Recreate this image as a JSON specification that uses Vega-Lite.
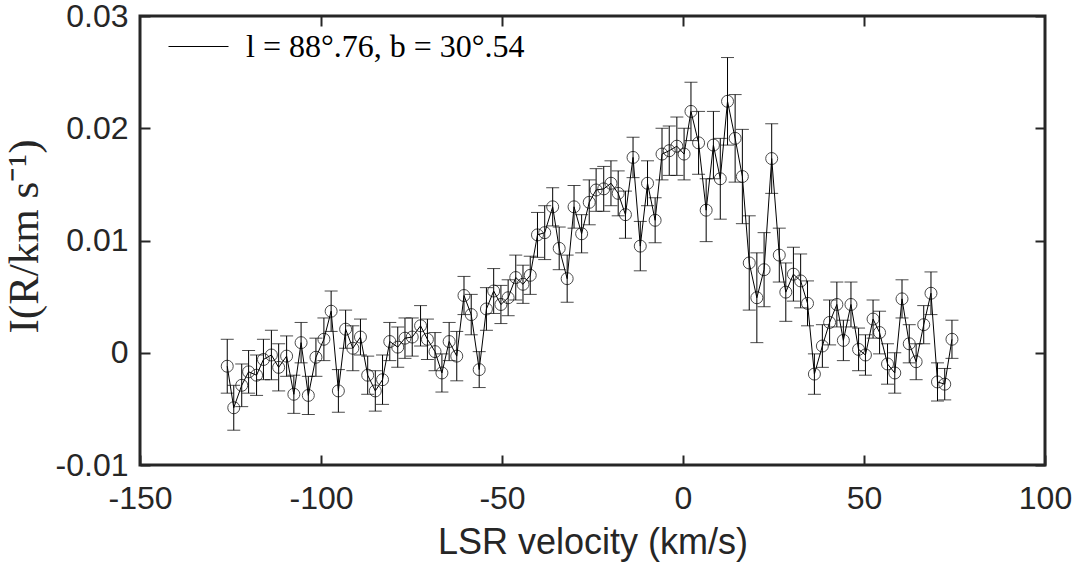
{
  "$schema": "https://vega.github.io/schema/vega-lite/v6.json",
  "width": 905,
  "height": 449,
  "autosize": "none",
  "padding": {"left": 140, "top": 16, "right": 29, "bottom": 99},
  "background": "white",
  "config": {
    "view": {"stroke": "#262626", "strokeWidth": 3},
    "axis": {
      "domain": false,
      "grid": false,
      "offset": -10,
      "tickColor": "#262626",
      "tickWidth": 2,
      "tickSize": 10,
      "labelFlush": false,
      "labelOverlap": false,
      "labelFont": "Liberation Sans",
      "labelFontSize": 32,
      "labelColor": "#262626",
      "titleColor": "#262626",
      "titleFontWeight": "normal"
    }
  },
  "data": {
    "values": [
      {"v": -125.9, "I": -0.0012, "err": 0.0024},
      {"v": -124.1, "I": -0.0049, "err": 0.0020},
      {"v": -121.9, "I": -0.0029, "err": 0.0019},
      {"v": -120.0, "I": -0.0017, "err": 0.0019},
      {"v": -117.8, "I": -0.0020, "err": 0.0018},
      {"v": -115.9, "I": -0.0006, "err": 0.0018},
      {"v": -113.7, "I": -0.0002, "err": 0.0022},
      {"v": -111.7, "I": -0.0013, "err": 0.0021},
      {"v": -109.5, "I": -0.0003, "err": 0.0018},
      {"v": -107.5, "I": -0.0037, "err": 0.0017},
      {"v": -105.5, "I": 0.0009, "err": 0.0018},
      {"v": -103.5, "I": -0.0038, "err": 0.0017},
      {"v": -101.4, "I": -0.0004, "err": 0.0017},
      {"v": -99.2, "I": 0.0012, "err": 0.0019},
      {"v": -97.2, "I": 0.0037, "err": 0.0018},
      {"v": -95.2, "I": -0.0034, "err": 0.0019},
      {"v": -93.2, "I": 0.0021, "err": 0.0017},
      {"v": -91.2, "I": 0.0004, "err": 0.0020},
      {"v": -89.1, "I": 0.0014, "err": 0.0016},
      {"v": -87.1, "I": -0.0020, "err": 0.0017},
      {"v": -85.0, "I": -0.0034, "err": 0.0018},
      {"v": -83.0, "I": -0.0024, "err": 0.0022},
      {"v": -81.0, "I": 0.0010, "err": 0.0017},
      {"v": -78.8, "I": 0.0005, "err": 0.0018},
      {"v": -76.8, "I": 0.0013, "err": 0.0018},
      {"v": -74.8, "I": 0.0014, "err": 0.0017},
      {"v": -72.5, "I": 0.0024, "err": 0.0018},
      {"v": -70.6, "I": 0.0012, "err": 0.0018},
      {"v": -68.5, "I": 0.0001, "err": 0.0017},
      {"v": -66.6, "I": -0.0018, "err": 0.0017},
      {"v": -64.6, "I": 0.0010, "err": 0.0017},
      {"v": -62.5, "I": -0.0003, "err": 0.0022},
      {"v": -60.5, "I": 0.0051, "err": 0.0017},
      {"v": -58.5, "I": 0.0034, "err": 0.0018},
      {"v": -56.3, "I": -0.0015, "err": 0.0016},
      {"v": -54.3, "I": 0.0039, "err": 0.0019},
      {"v": -52.3, "I": 0.0055, "err": 0.0020},
      {"v": -50.3, "I": 0.0043, "err": 0.0017},
      {"v": -48.3, "I": 0.0049, "err": 0.0016},
      {"v": -46.2, "I": 0.0067, "err": 0.0020},
      {"v": -44.2, "I": 0.0061, "err": 0.0017},
      {"v": -42.2, "I": 0.0069, "err": 0.0017},
      {"v": -40.2, "I": 0.0105, "err": 0.0020},
      {"v": -38.2, "I": 0.0107, "err": 0.0024},
      {"v": -36.0, "I": 0.0130, "err": 0.0017},
      {"v": -34.2, "I": 0.0093, "err": 0.0019},
      {"v": -32.0, "I": 0.0066, "err": 0.0021},
      {"v": -30.1, "I": 0.0130, "err": 0.0019},
      {"v": -28.0, "I": 0.0106, "err": 0.0017},
      {"v": -25.9, "I": 0.0134, "err": 0.0020},
      {"v": -24.0, "I": 0.0145, "err": 0.0019},
      {"v": -21.9, "I": 0.0146, "err": 0.0020},
      {"v": -19.9, "I": 0.0151, "err": 0.0020},
      {"v": -17.9, "I": 0.0142, "err": 0.0020},
      {"v": -15.9, "I": 0.0123, "err": 0.0021},
      {"v": -13.8, "I": 0.0174, "err": 0.0018},
      {"v": -11.8, "I": 0.0095, "err": 0.0022},
      {"v": -9.8, "I": 0.0151, "err": 0.0020},
      {"v": -7.7, "I": 0.0118, "err": 0.0020},
      {"v": -5.8, "I": 0.0177, "err": 0.0023},
      {"v": -3.8, "I": 0.0180, "err": 0.0022},
      {"v": -1.7, "I": 0.0184, "err": 0.0026},
      {"v": 0.3, "I": 0.0177, "err": 0.0023},
      {"v": 2.2, "I": 0.0215, "err": 0.0026},
      {"v": 4.3, "I": 0.0187, "err": 0.0028},
      {"v": 6.4, "I": 0.0127, "err": 0.0028},
      {"v": 8.4, "I": 0.0185, "err": 0.0030},
      {"v": 10.3, "I": 0.0155, "err": 0.0036},
      {"v": 12.3, "I": 0.0224, "err": 0.0039},
      {"v": 14.4, "I": 0.0191, "err": 0.0039},
      {"v": 16.4, "I": 0.0157, "err": 0.0042},
      {"v": 18.3, "I": 0.0080, "err": 0.0042},
      {"v": 20.4, "I": 0.0049, "err": 0.0040},
      {"v": 22.4, "I": 0.0074, "err": 0.0033},
      {"v": 24.5, "I": 0.0173, "err": 0.0031},
      {"v": 26.6, "I": 0.0087, "err": 0.0024},
      {"v": 28.4, "I": 0.0054, "err": 0.0026},
      {"v": 30.5, "I": 0.0070, "err": 0.0024},
      {"v": 32.5, "I": 0.0064, "err": 0.0024},
      {"v": 34.4, "I": 0.0044, "err": 0.0020},
      {"v": 36.3, "I": -0.0019, "err": 0.0018},
      {"v": 38.5, "I": 0.0006, "err": 0.0019},
      {"v": 40.5, "I": 0.0027, "err": 0.0020},
      {"v": 42.5, "I": 0.0043, "err": 0.0020},
      {"v": 44.3, "I": 0.0011, "err": 0.0018},
      {"v": 46.4, "I": 0.0043, "err": 0.0020},
      {"v": 48.5, "I": 0.0003, "err": 0.0019},
      {"v": 50.4, "I": -0.0002, "err": 0.0018},
      {"v": 52.5, "I": 0.0030, "err": 0.0017},
      {"v": 54.3, "I": 0.0018, "err": 0.0019},
      {"v": 56.5, "I": -0.0010, "err": 0.0018},
      {"v": 58.5, "I": -0.0018, "err": 0.0018},
      {"v": 60.5, "I": 0.0048, "err": 0.0017},
      {"v": 62.5, "I": 0.0008, "err": 0.0017},
      {"v": 64.4, "I": -0.0008, "err": 0.0016},
      {"v": 66.5, "I": 0.0025, "err": 0.0017},
      {"v": 68.5, "I": 0.0053, "err": 0.0019},
      {"v": 70.3, "I": -0.0026, "err": 0.0017},
      {"v": 72.3, "I": -0.0028, "err": 0.0014},
      {"v": 74.3, "I": 0.0012, "err": 0.0017}
    ]
  },
  "resolve": {"axis": {"x": "independent", "y": "independent"}},
  "layer": [
    {
      "mark": {"type": "errorbar", "color": "black", "thickness": 1, "ticks": {"size": 13}},
      "encoding": {
        "x": {"field": "v", "type": "quantitative", "scale": {"domain": [-150, 100]}, "axis": null},
        "y": {"field": "I", "type": "quantitative", "scale": {"domain": [-0.01, 0.03]}, "axis": null},
        "yError": {"field": "err"}
      }
    },
    {
      "mark": {"type": "line", "color": "black", "strokeWidth": 1},
      "encoding": {
        "x": {
          "field": "v", "type": "quantitative",
          "scale": {"domain": [-150, 100]},
          "axis": {
            "orient": "bottom",
            "values": [-150, -100, -50, 0, 50, 100],
            "labelPadding": 18,
            "labelExpr": "datum.value < 0 ? '-' + (-datum.value) : '' + datum.value",
            "title": "LSR velocity (km/s)",
            "titleFont": "Liberation Sans",
            "titleFontSize": 36,
            "titleY": 98,
            "titleBaseline": "alphabetic"
          }
        },
        "y": {
          "field": "I", "type": "quantitative",
          "scale": {"domain": [-0.01, 0.03]},
          "axis": {
            "orient": "left",
            "values": [-0.01, 0, 0.01, 0.02, 0.03],
            "labelPadding": 12,
            "labelExpr": "abs(datum.value) < 1e-9 ? '0' : (datum.value < 0 ? '-' : '') + format(abs(datum.value), '.2f')",
            "title": "I(R/km s⁻¹)",
            "titleFont": "Liberation Serif",
            "titleFontSize": 43,
            "titleAngle": -90,
            "titleX": -126,
            "titleY": 220,
            "titleAlign": "center",
            "titleBaseline": "middle"
          }
        },
        "color": {
          "datum": "l = 88°.76, b = 30°.54",
          "type": "nominal",
          "scale": {"range": ["black"]},
          "legend": {
            "orient": "none",
            "legendX": 28,
            "legendY": 0,
            "padding": 0,
            "title": null,
            "symbolType": "stroke",
            "symbolSize": 3600,
            "symbolStrokeWidth": 1,
            "labelOffset": 17,
            "labelLimit": 600,
            "labelFont": "Liberation Serif",
            "labelFontSize": 32,
            "labelColor": "black"
          }
        }
      }
    },
    {
      "mark": {"type": "point", "shape": "circle", "filled": false, "color": "black", "size": 144, "strokeWidth": 1},
      "encoding": {
        "x": {
          "field": "v", "type": "quantitative",
          "scale": {"domain": [-150, 100]},
          "axis": {"orient": "top", "values": [-100, -50, 0, 50], "labels": false, "title": null}
        },
        "y": {
          "field": "I", "type": "quantitative",
          "scale": {"domain": [-0.01, 0.03]},
          "axis": {"orient": "right", "values": [-0.01, 0, 0.01, 0.02, 0.03], "labels": false, "title": null}
        }
      }
    }
  ]
}
